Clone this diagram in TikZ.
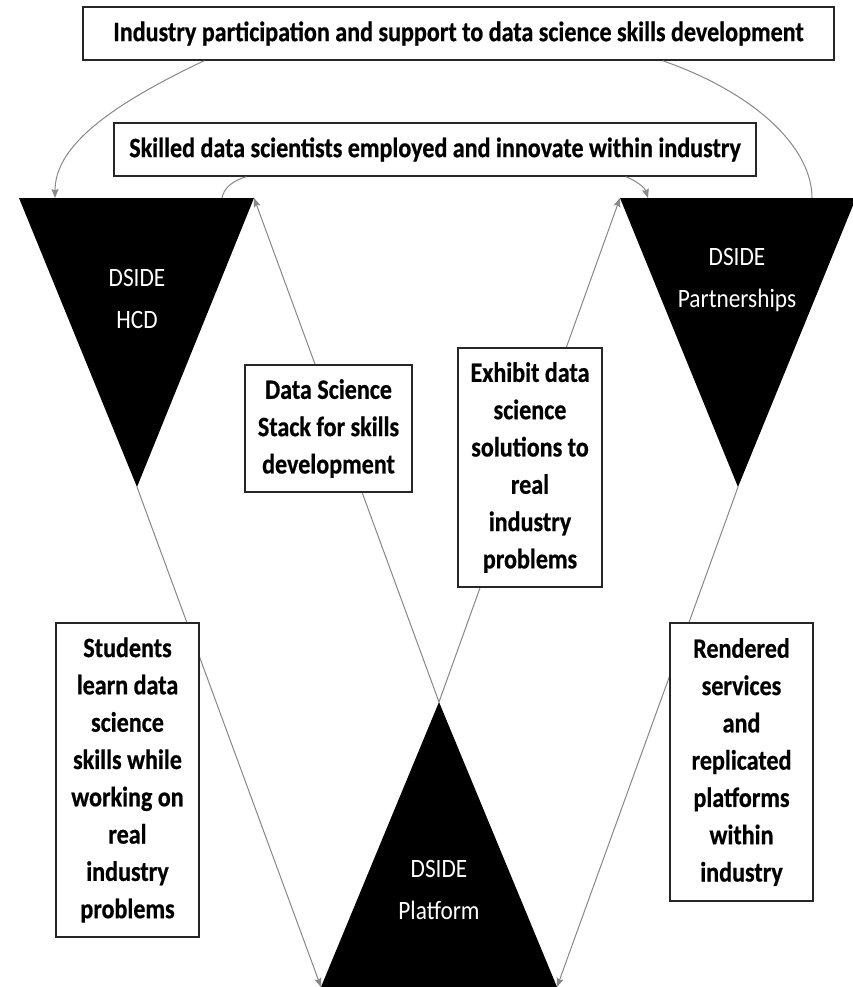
\documentclass[tikz,border=0pt]{standalone}
\usepackage{fontspec}
\setmainfont{Carlito}[FakeStretch=0.88]
\newfontfamily\boxfont{Carlito}[FakeStretch=0.86, FakeBold=0.6]
\usetikzlibrary{arrows.meta}

\definecolor{linkgray}{RGB}{135,135,135}

\tikzset{
  box/.style={draw=black!85, line width=1.4pt, fill=white, align=center, inner sep=0pt,
    font=\boxfont\fontsize{28}{37.3}\selectfont\bfseries},
  trilabel/.style={text=white, align=center, inner sep=0pt,
    font=\fontsize{26.5}{42}\selectfont},
  link/.style={draw=linkgray, line width=1pt},
  head/.style={-{Stealth[length=9pt,width=7pt,inset=1.5pt]}}
}

\begin{document}
\begin{tikzpicture}[x=1pt,y=-1pt]
  \useasboundingbox (0,0) rectangle (853,987);

  % triangle corners
  \coordinate (hcdL) at (19,198);
  \coordinate (hcdR) at (254,198);
  \coordinate (hcdT) at (137,487);
  \coordinate (ptnL) at (620,198);
  \coordinate (ptnR) at (856,198);
  \coordinate (ptnT) at (738,487);
  \coordinate (pltL) at (321,987);
  \coordinate (pltR) at (557,987);
  \coordinate (pltT) at (439,702);

  \fill (hcdL) -- (hcdR) -- (hcdT) -- cycle;
  \fill (ptnL) -- (ptnR) -- (ptnT) -- cycle;
  \fill (pltL) -- (pltR) -- (pltT) -- cycle;

  \node[trilabel] (hcd) at (137,299) {DSIDE\\HCD};
  \node[trilabel] (ptn) at (737,280) {DSIDE\\Partnerships};
  \node[trilabel] (plt) at (439,890) {DSIDE\\Platform};

  % straight links (behind the boxes)
  \draw[link,head] (pltT) -- (hcdR);
  \draw[link,head] (pltT) -- (ptnL);
  \draw[link,head] (hcdT) -- (pltL);
  \draw[link,head] (ptnT) -- (pltR);

  % boxes
  \node[box, minimum width=751pt, minimum height=53pt] (industry) at (458.5,33.5)
    {Industry participation and support to data science skills development};
  \node[box, minimum width=642pt, minimum height=53pt] (skilled) at (435,149.5)
    {Skilled data scientists employed and innovate within industry};
  \node[box, minimum width=167pt, minimum height=127pt] (stack) at (328.5,428.5)
    {Data Science\\Stack for skills\\development};
  \node[box, minimum width=144pt, minimum height=239pt] (exhibit) at (530,467.5)
    {Exhibit data\\science\\solutions to\\real\\industry\\problems};
  \node[box, minimum width=143pt, minimum height=314pt] (students) at (127.5,780)
    {Students\\learn data\\science\\skills while\\working on\\real\\industry\\problems};
  \node[box, minimum width=143pt, minimum height=278pt] (rendered) at (741.5,762)
    {Rendered\\services\\and\\replicated\\platforms\\within\\industry};

  % curved links
  \draw[link,head] ([xshift=122pt]industry.south west)
    .. controls (100,110) and (55,150) .. ([xshift=36pt]hcdL);
  \draw[link] ([xshift=-172pt]industry.south east)
    .. controls (760,95) and (812,150) .. ([xshift=-44pt]ptnR);
  \draw[link] ([xshift=-32pt]hcdR)
    .. controls (224,188) and (232,181) .. ([xshift=133pt]skilled.south west);
  \draw[link,head] ([xshift=-131pt]skilled.south east)
    .. controls (637,181) and (645,188) .. ([xshift=28pt]ptnL);
\end{tikzpicture}
\end{document}
